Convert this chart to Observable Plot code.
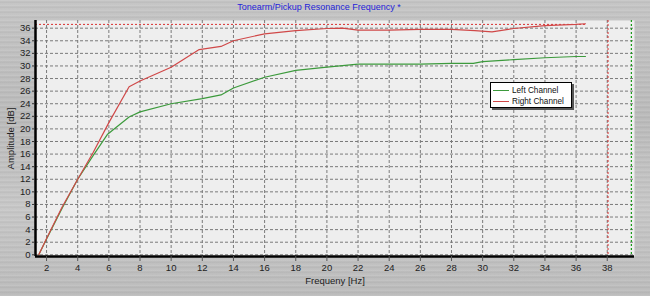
<!DOCTYPE html>
<html>
<head>
<meta charset="utf-8">
<script src="https://cdn.jsdelivr.net/npm/d3@7"></script>
<script src="https://cdn.jsdelivr.net/npm/@observablehq/plot@0.6"></script>
<style>
  html, body { margin: 0; padding: 0; }
  #wrap {
    position: relative; width: 650px; height: 296px; overflow: hidden;
    font-family: "Liberation Sans", Arial, sans-serif;
    background:
      repeating-linear-gradient(180deg, rgba(255,255,255,0.10) 0px, rgba(255,255,255,0.10) 1px, rgba(0,0,0,0.05) 2px, rgba(0,0,0,0.0) 3px, rgba(255,255,255,0.06) 5px),
      linear-gradient(180deg, #c4c4c4 0%, #b9b9b9 40%, #c6c6c6 70%, #bababa 100%);
  }
  #title {
    position: absolute; top: 2px; left: 0; width: 638px; text-align: center;
    font-size: 9px; color: #2424d8; white-space: nowrap;
  }
  #legend {
    position: absolute; left: 490px; top: 82px; width: 82px; height: 26px;
    background: #fff; border: 1px solid #000; box-shadow: 2px 2px 0 #555;
    font-size: 8.2px; color: #111; box-sizing: border-box; padding: 2px 0 0 2px;
    white-space: nowrap;
  }
  #legend div { height: 11px; line-height: 11px; display: flex; align-items: center; white-space: nowrap; }
  #legend span.sw { display: inline-block; flex: none; width: 16px; height: 0; border-top: 1.3px solid; margin-right: 3px; }
  svg { position: absolute; left: 0; top: 0; }
</style>
</head>
<body>
<div id="wrap">
  <div id="title"></div>
  <div id="legend"></div>
</div>
<script>
const title = "Tonearm/Pickup Resonance Frequency *";
const xLabel = "Frequeny [Hz]";
const yLabel = "Amplitude [dB]";
const seriesNames = ["Left Channel", "Right Channel"];
const seriesColors = ["#3c9a3c", "#d04848"];

const leftFreq = [1.5, 2, 3, 4, 5, 5.9, 7.3, 8, 10, 12, 13.2, 14, 16, 18, 20, 22, 24, 26, 28, 29.4, 30, 32, 34, 36, 36.6];
const leftAmp  = [0, 2.5, 7.4, 12, 15.8, 19.1, 21.9, 22.7, 24.0, 24.8, 25.4, 26.5, 28.2, 29.3, 29.8, 30.3, 30.3, 30.3, 30.4, 30.4, 30.7, 31.0, 31.3, 31.5, 31.5];

const rightFreq = [1.5, 2, 3, 4, 5, 6, 7.3, 8, 10, 11.8, 13.2, 14, 16, 18, 20, 21, 22, 24, 26, 28, 29.5, 30.6, 32, 34, 36, 36.6];
const rightAmp  = [0, 2.6, 7.6, 12, 16.3, 21, 26.7, 27.6, 29.8, 32.6, 33.1, 34.0, 35.1, 35.6, 35.95, 36.0, 35.7, 35.7, 35.8, 35.8, 35.6, 35.4, 35.95, 36.4, 36.6, 36.7];

// marker lines
const redMarkerAmp = [36.6];
const redMarkerFreq = [38.05];
const greenMarkerFreq = [39.55];

const xTicks = d3.range(2, 39, 2);
const yTicks = d3.range(0, 37, 2);
const xDomain = [1.29, 39.75];
const yDomain = [-0.27, 37.22];

const leftData = leftFreq.map((f, i) => ({f, a: leftAmp[i]}));
const rightData = rightFreq.map((f, i) => ({f, a: rightAmp[i]}));

document.getElementById("title").textContent = title;
const leg = document.getElementById("legend");
seriesNames.forEach((n, i) => {
  const row = document.createElement("div");
  const sw = document.createElement("span");
  sw.className = "sw"; sw.style.borderColor = seriesColors[i];
  row.appendChild(sw);
  const t = document.createElement("span");
  t.textContent = n;
  row.appendChild(t);
  leg.appendChild(row);
});

const chart = Plot.plot({
  width: 650, height: 296,
  marginLeft: 35, marginRight: 16, marginTop: 20, marginBottom: 40,
  style: {background: "transparent", fontFamily: "Liberation Sans, Arial, sans-serif", fontSize: "9.5px", color: "#222"},
  x: {domain: xDomain},
  y: {domain: yDomain},
  marks: [
    Plot.frame({fill: "#eeeeee", stroke: "none"}),
    Plot.gridX(xTicks, {stroke: "#7a7a7a", strokeOpacity: 1, strokeDasharray: "3,2"}),
    Plot.gridY(yTicks, {stroke: "#7a7a7a", strokeOpacity: 1, strokeDasharray: "3,2"}),
    Plot.ruleY(redMarkerAmp, {x1: xDomain[0], x2: d3.max(rightFreq), stroke: "#d83030", strokeDasharray: "2,2"}),
    Plot.ruleX(redMarkerFreq, {stroke: "#d83030", strokeDasharray: "2,2"}),
    Plot.ruleX(greenMarkerFreq, {stroke: "#1a9a1a", strokeWidth: 1.2, strokeDasharray: "2,2"}),
    Plot.line(leftData, {x: "f", y: "a", stroke: seriesColors[0], strokeWidth: 1.2}),
    Plot.line(rightData, {x: "f", y: "a", stroke: seriesColors[1], strokeWidth: 1.2}),
    Plot.ruleX([xDomain[0]], {stroke: "#000", strokeWidth: 2.5}),
    Plot.ruleY([yDomain[0]], {stroke: "#000", strokeWidth: 2.5, x1: xDomain[0], x2: xDomain[1]}),
    Plot.axisX(xTicks, {tickSize: 5, tickPadding: 3, stroke: "#555", label: xLabel, labelAnchor: "center", labelArrow: "none", labelOffset: 27, fill: "#222"}),
    Plot.axisY(yTicks, {tickSize: 3, tickPadding: 2, stroke: "#333", label: yLabel, labelAnchor: "center", labelArrow: "none", labelOffset: 28, fill: "#222"})
  ]
});
document.getElementById("wrap").insertBefore(chart, document.getElementById("title"));
</script>
</body>
</html>
